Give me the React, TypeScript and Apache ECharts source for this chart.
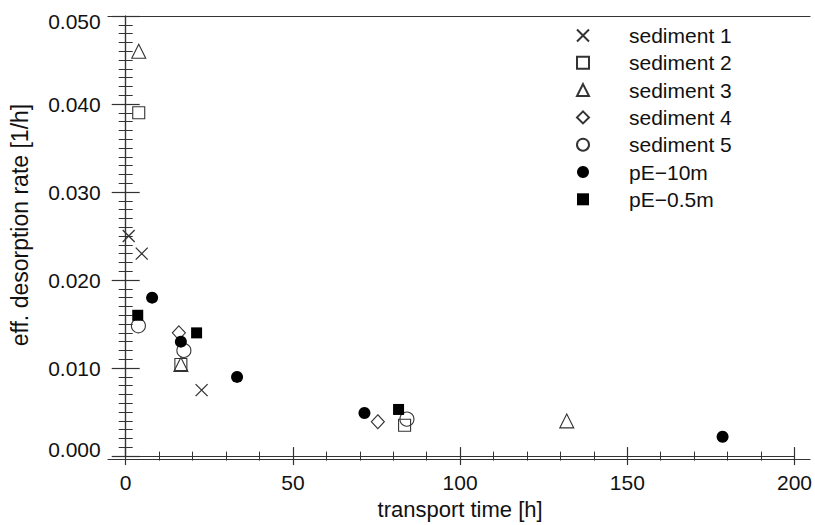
import React, { useEffect, useRef } from "react";
import * as echarts from "echarts";

// transport time [h], eff. desorption rate [1/h]
const sediment1X = [0.9, 4.8, 22.7];
const sediment1Y = [0.025, 0.023, 0.0075];
const sediment2X = [3.9, 16.5, 83.4];
const sediment2Y = [0.039, 0.0104, 0.0035];
const sediment3X = [3.9, 16.5, 131.9];
const sediment3Y = [0.046, 0.0104, 0.004];
const sediment4X = [15.9, 75.4];
const sediment4Y = [0.014, 0.0039];
const sediment5X = [3.8, 17.4, 84.1];
const sediment5Y = [0.0148, 0.012, 0.0042];
const pE10mX = [7.9, 16.5, 33.3, 71.4, 178.5];
const pE10mY = [0.018, 0.013, 0.009, 0.0049, 0.0022];
const pE05mX = [3.6, 21.2, 81.6];
const pE05mY = [0.016, 0.014, 0.0053];

const seriesNames = ["sediment 1", "sediment 2", "sediment 3", "sediment 4", "sediment 5", "pE\u221210m", "pE\u22120.5m"];

const xTitle = "transport time [h]";
const yTitle = "eff. desorption rate [1/h]";

const FONT = "'Liberation Sans', Arial, Helvetica, sans-serif";
const INK = "#111";
const LINE = "#333";

function pairs(xs: number[], ys: number[]) {
  return xs.map((x, i) => [x, ys[i]]);
}

export default function App() {
  const ref = useRef<HTMLDivElement>(null);
  useEffect(() => {
    if (!ref.current) return;
    const chart = echarts.init(ref.current, null, { renderer: "svg" });
    const open = { color: "rgba(0,0,0,0)", borderColor: LINE, borderWidth: 1.1, opacity: 1 };
    const filled = { color: "#000", borderColor: "#000", borderWidth: 0, opacity: 1 };
    const base = { type: "scatter", xAxisIndex: 0, yAxisIndex: 0 } as any;
    const gridTop = 16;
    const gridBottom = 525 - 459.4;
    chart.setOption({
      animation: false,
      backgroundColor: "#fff",
      textStyle: { fontFamily: FONT },
      grid: [
        { left: 125.7, right: 815 - 796, top: gridTop, bottom: gridBottom },
        { left: 108, right: 5, top: gridTop, bottom: gridBottom },
      ],
      xAxis: [
        {
          gridIndex: 0, type: "value", position: "bottom", min: 0, max: 200, interval: 50,
          axisLine: { show: true, lineStyle: { color: LINE, width: 1.2 } },
          axisTick: { show: true, length: 9, lineStyle: { color: LINE, width: 1.2 } },
          minorTick: { show: true, splitNumber: 5, length: 4.5, lineStyle: { color: LINE, width: 1 } },
          splitLine: { show: false },
          axisLabel: { show: true, color: INK, fontSize: 21, fontFamily: FONT, margin: 16 },
          name: xTitle, nameLocation: "middle", nameGap: 38,
          nameTextStyle: { color: INK, fontSize: 22, fontFamily: FONT },
        },
        {
          gridIndex: 0, type: "value", position: "top", min: 0, max: 200, interval: 50,
          axisLine: { show: true, lineStyle: { color: LINE, width: 1.2 } },
          axisTick: { show: true, length: 9, lineStyle: { color: LINE, width: 1.2 } },
          minorTick: { show: true, splitNumber: 5, length: 4.5, lineStyle: { color: LINE, width: 1 } },
          splitLine: { show: false },
          axisLabel: { show: false },
        },
        {
          gridIndex: 1, type: "value", position: "bottom", min: 0, max: 1,
          axisLine: { show: true, lineStyle: { color: LINE, width: 1.2 } },
          axisTick: { show: false }, axisLabel: { show: false }, splitLine: { show: false },
        },
        {
          gridIndex: 1, type: "value", position: "top", min: 0, max: 1,
          axisLine: { show: true, lineStyle: { color: LINE, width: 1.2 } },
          axisTick: { show: false }, axisLabel: { show: false }, splitLine: { show: false },
        },
      ],
      yAxis: [
        {
          gridIndex: 0, type: "value", position: "left", offset: 4, min: 0, max: 0.05, interval: 0.01,
          axisLine: { show: true, lineStyle: { color: LINE, width: 1.2 } },
          axisTick: { show: true, length: 14, lineStyle: { color: LINE, width: 1.2 } },
          minorTick: { show: true, splitNumber: 10, length: 7, lineStyle: { color: LINE, width: 1 } },
          splitLine: { show: false },
          axisLabel: {
            show: true, color: INK, fontSize: 21, fontFamily: FONT, margin: 21,
            formatter: (v: number) => {
              const s = v.toFixed(3);
              if (Math.abs(v - 0.05) < 1e-9) return "{hi|" + s + "}";
              if (Math.abs(v) < 1e-9) return "{lo|" + s + "}";
              return s;
            },
            rich: {
              hi: { color: INK, fontSize: 21, fontFamily: FONT, padding: [11, 0, 0, 0] },
              lo: { color: INK, fontSize: 21, fontFamily: FONT, padding: [0, 0, 14, 0] },
            },
          },
          name: yTitle, nameLocation: "middle", nameGap: 90, nameRotate: 90,
          nameTextStyle: { color: INK, fontSize: 23, fontFamily: FONT, padding: [0, 0, 0, 22] },
        },
        {
          gridIndex: 0, type: "value", position: "right", min: 0, max: 0.05, interval: 0.01,
          axisLine: { show: true, lineStyle: { color: LINE, width: 1.2 } },
          axisTick: { show: true, length: 14, lineStyle: { color: LINE, width: 1.2 } },
          minorTick: { show: true, splitNumber: 10, length: 7, lineStyle: { color: LINE, width: 1 } },
          splitLine: { show: false },
          axisLabel: { show: false },
        },
        { gridIndex: 1, type: "value", show: false, min: 0, max: 1 },
      ],
      legend: {
        show: true,
        orient: "vertical",
        left: 571,
        top: 20,
        itemWidth: 12,
        itemHeight: 12,
        itemGap: 6.3,
        selectedMode: false,
        data: seriesNames,
        textStyle: { color: INK, fontSize: 21, fontFamily: FONT, padding: [0, 0, 0, 35] },
      },
      series: [
        { ...base, name: seriesNames[0], data: pairs(sediment1X, sediment1Y), symbol: "path://M0,0L10,10M0,10L10,0", symbolSize: 12, itemStyle: { ...open, borderWidth: 1.3 } },
        { ...base, name: seriesNames[1], data: pairs(sediment2X, sediment2Y), symbol: "rect", symbolSize: 12, itemStyle: open },
        { ...base, name: seriesNames[2], data: pairs(sediment3X, sediment3Y), symbol: "triangle", symbolSize: 14, itemStyle: open },
        { ...base, name: seriesNames[3], data: pairs(sediment4X, sediment4Y), symbol: "diamond", symbolSize: [13, 14], itemStyle: open },
        { ...base, name: seriesNames[4], data: pairs(sediment5X, sediment5Y), symbol: "circle", symbolSize: 14, itemStyle: open },
        { ...base, name: seriesNames[5], data: pairs(pE10mX, pE10mY), symbol: "circle", symbolSize: 12, itemStyle: filled },
        { ...base, name: seriesNames[6], data: pairs(pE05mX, pE05mY), symbol: "rect", symbolSize: 11, itemStyle: filled },
      ],
    });
    return () => chart.dispose();
  }, []);
  return <div ref={ref} style={{ position: "fixed", left: 0, top: 0, width: 815, height: 525 }} />;
}
